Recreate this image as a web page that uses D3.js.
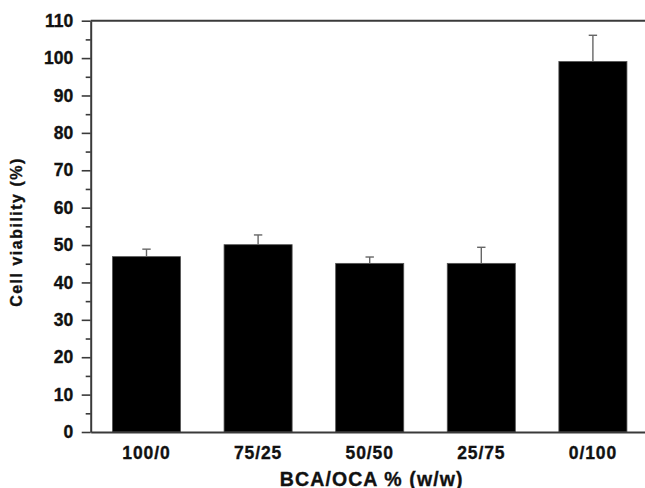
<!DOCTYPE html>
<html>
<head>
<meta charset="utf-8">
<script src="https://cdn.jsdelivr.net/npm/d3@7"></script>
<style>
  body { margin: 0; background: #fff; }
  svg { display: block; font-family: "Liberation Sans", Arial, sans-serif; font-weight: bold; }
  svg text { stroke: #111; stroke-width: 0.35px; }
</style>
</head>
<body>
<div id="chart"></div>
<script>
// data
const categories = ["100/0", "75/25", "50/50", "25/75", "0/100"];
const viability = [46.9, 50.1, 45.1, 45.1, 99.1];
const errors = [2.0, 2.6, 1.7, 4.3, 7.0];
const majorTicks = [0, 10, 20, 30, 40, 50, 60, 70, 80, 90, 100, 110];
const minorTicks = [5, 15, 25, 35, 45, 55, 65, 75, 85, 95, 105];

const width = 645, height = 488;
const plotLeft = 90.7, plotRight = 648.7, plotTop = 20.7, plotBottom = 432;

const svg = d3.select("#chart").append("svg")
    .attr("width", width)
    .attr("height", height);

const x = d3.scaleBand()
    .domain(categories)
    .range([plotLeft, plotRight])
    .paddingInner(0.39)
    .paddingOuter(0.195);

const y = d3.scaleLinear()
    .domain([0, 110])
    .range([plotBottom, plotTop]);

const axisColor = "#3a3a3a";

// bars
svg.append("g").selectAll("rect")
    .data(categories)
    .join("rect")
    .attr("x", d => x(d))
    .attr("y", (d, i) => y(viability[i]))
    .attr("width", x.bandwidth())
    .attr("height", (d, i) => y(0) - y(viability[i]))
    .attr("fill", "#000")
    .attr("stroke", "#555")
    .attr("stroke-width", 0.8);

// error bars (upper only)
const eb = svg.append("g").attr("stroke", "#666").attr("stroke-width", 1.4);
categories.forEach((c, i) => {
  const cx = x(c) + x.bandwidth() / 2;
  eb.append("line")
      .attr("x1", cx).attr("x2", cx)
      .attr("y1", y(viability[i])).attr("y2", y(viability[i] + errors[i]));
  eb.append("line")
      .attr("x1", cx - 4.2).attr("x2", cx + 4.2)
      .attr("y1", y(viability[i] + errors[i])).attr("y2", y(viability[i] + errors[i]));
});

// minor ticks on y
svg.append("g")
    .attr("transform", `translate(${plotLeft},0)`)
    .call(d3.axisLeft(y).tickValues(minorTicks).tickSize(5).tickFormat(""))
    .call(g => g.select(".domain").remove())
    .call(g => g.selectAll("line").attr("stroke", axisColor).attr("stroke-width", 1.6));

// major y axis
svg.append("g")
    .attr("transform", `translate(${plotLeft},0)`)
    .call(d3.axisLeft(y).tickValues(majorTicks).tickSize(9).tickPadding(8.5).tickSizeOuter(0))
    .call(g => g.select(".domain").attr("stroke", axisColor).attr("stroke-width", 2))
    .call(g => g.selectAll("line").attr("stroke", axisColor).attr("stroke-width", 1.6))
    .call(g => g.selectAll("text")
        .attr("font-size", 17.5)
        .attr("font-weight", "bold")
        .attr("font-family", "'Liberation Sans', Arial, sans-serif")
        .attr("fill", "#111"));

// x axis
svg.append("g")
    .attr("transform", `translate(0,${plotBottom})`)
    .call(d3.axisBottom(x).tickSize(0).tickPadding(14.5).tickSizeOuter(0))
    .call(g => g.select(".domain").attr("stroke", axisColor).attr("stroke-width", 2))
    .call(g => g.selectAll("text")
        .attr("font-size", 17.5)
        .attr("font-weight", "bold")
        .attr("font-family", "'Liberation Sans', Arial, sans-serif")
        .attr("letter-spacing", 0.9)
        .attr("fill", "#111"));

// top frame line
svg.append("line")
    .attr("x1", plotLeft).attr("x2", plotRight)
    .attr("y1", plotTop).attr("y2", plotTop)
    .attr("stroke", axisColor).attr("stroke-width", 2);

// axis titles
svg.append("text")
    .attr("x", (plotLeft + plotRight) / 2 + 2)
    .attr("y", 485.5)
    .attr("text-anchor", "middle")
    .attr("font-size", 19.5)
    .attr("letter-spacing", 1.1)
    .attr("fill", "#111")
    .text("BCA/OCA % (w/w)");

svg.append("text")
    .attr("transform", "translate(22.3,232) rotate(-90)")
    .attr("text-anchor", "middle")
    .attr("font-size", 16)
    .attr("letter-spacing", 1.5)
    .attr("fill", "#111")
    .text("Cell viability (%)");
</script>
</body>
</html>
